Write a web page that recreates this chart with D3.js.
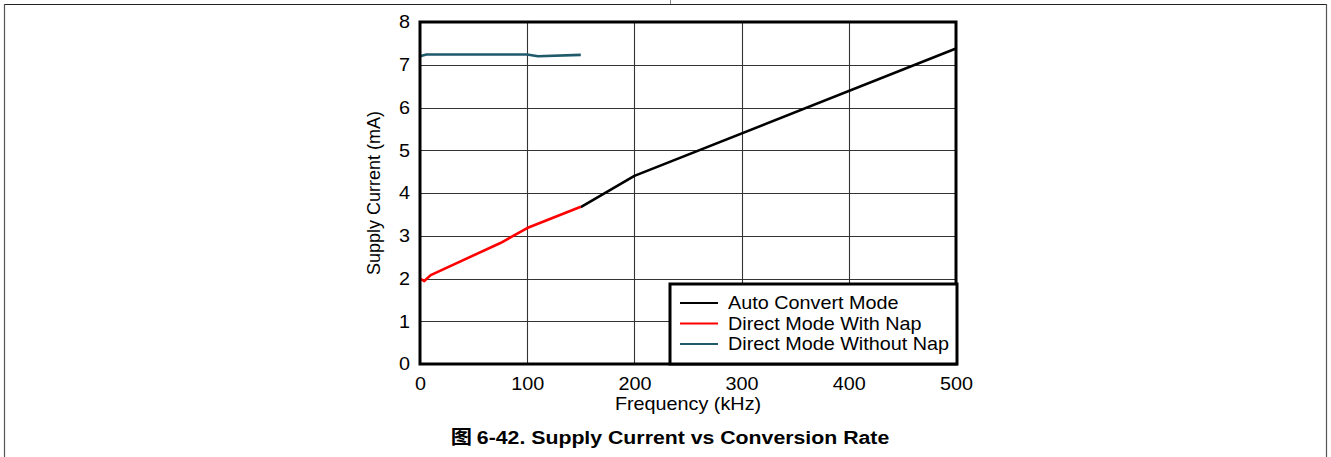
<!DOCTYPE html>
<html><head><meta charset="utf-8">
<script src="https://cdn.jsdelivr.net/npm/d3@7"></script>
<style>
html,body{margin:0;padding:0;background:#fff;}
svg{display:block;}
text{font-family:"Liberation Sans",Arial,sans-serif;fill:#000;}
</style></head>
<body>
<svg id="chart" width="1331" height="457"></svg>
<script>
const xTicks = [0, 100, 200, 300, 400, 500];
const yTicks = [0, 1, 2, 3, 4, 5, 6, 7, 8];
const seriesNames = ["Auto Convert Mode", "Direct Mode With Nap", "Direct Mode Without Nap"];
const seriesColors = ["#000000", "#ff0000", "#1f5a6b"];
const autoX = [150, 200, 500];
const autoY = [3.67, 4.40, 7.38];
const napX = [0, 4, 10, 75, 100, 150];
const napY = [2.0, 1.94, 2.08, 2.83, 3.18, 3.68];
const noNapX = [0, 6, 100, 110, 150];
const noNapY = [7.2, 7.24, 7.24, 7.2, 7.23];
const xLabel = "Frequency (kHz)";
const yLabel = "Supply Current (mA)";
const caption = "6-42. Supply Current vs Conversion Rate";

const FS = 18, SX = 1.1;
const svg = d3.select("#chart");
const L = 420, R = 956, T = 22, B = 364;
const x = d3.scaleLinear().domain([0, 500]).range([L, R]);
const y = d3.scaleLinear().domain([0, 8]).range([B, T]);

// page frame
svg.append("line").attr("x1", 4.5).attr("x2", 1326.5).attr("y1", 4.5).attr("y2", 4.5).attr("stroke", "#222").attr("stroke-width", 1.2);
svg.append("line").attr("x1", 4.5).attr("x2", 4.5).attr("y1", 4).attr("y2", 457).attr("stroke", "#555").attr("stroke-width", 1.2);
svg.append("line").attr("x1", 1326.5).attr("x2", 1326.5).attr("y1", 4).attr("y2", 457).attr("stroke", "#555").attr("stroke-width", 1.2);
svg.append("line").attr("x1", 670.5).attr("x2", 670.5).attr("y1", 0).attr("y2", 4).attr("stroke", "#888").attr("stroke-width", 1);

// grid
const g = svg.append("g");
g.selectAll(".vg").data(xTicks.slice(1, -1)).enter().append("line")
  .attr("x1", d => Math.round(x(d)) + 0.5).attr("x2", d => Math.round(x(d)) + 0.5)
  .attr("y1", T).attr("y2", B).attr("stroke", "#333").attr("stroke-width", 1.1);
g.selectAll(".hg").data(yTicks.slice(1, -1)).enter().append("line")
  .attr("x1", L).attr("x2", R)
  .attr("y1", d => Math.round(y(d)) + 0.5).attr("y2", d => Math.round(y(d)) + 0.5)
  .attr("stroke", "#333").attr("stroke-width", 1.1);

// axes tick labels
const xAxis = d3.axisBottom(x).tickValues(xTicks).tickSize(0).tickPadding(13);
const xg = svg.append("g").attr("transform", `translate(0,${B})`).call(xAxis);
xg.select(".domain").remove();
xg.selectAll("text").attr("font-size", FS).attr("font-family", "Liberation Sans, Arial, sans-serif")
  .attr("fill", "#000").attr("transform", `scale(${SX},1)`);
const yAxis = d3.axisLeft(y).tickValues(yTicks).tickSize(0).tickPadding(9);
const yg = svg.append("g").attr("transform", `translate(${L},0)`).call(yAxis);
yg.select(".domain").remove();
yg.selectAll("text").attr("font-size", FS).attr("font-family", "Liberation Sans, Arial, sans-serif")
  .attr("fill", "#000").attr("transform", `scale(${SX},1)`);

// series
const line = d3.line().x(d => x(d[0])).y(d => y(d[1]));
const data = [
  d3.zip(autoX, autoY),
  d3.zip(napX, napY),
  d3.zip(noNapX, noNapY)
];
[2, 0, 1].forEach(i => {
  svg.append("path").datum(data[i]).attr("d", line)
    .attr("fill", "none").attr("stroke", seriesColors[i]).attr("stroke-width", 2.6)
    .attr("stroke-linejoin", "round");
});

// plot frame
svg.append("rect").attr("x", L).attr("y", T).attr("width", R - L).attr("height", B - T)
  .attr("fill", "none").attr("stroke", "#000").attr("stroke-width", 3);

// legend
const lg = svg.append("g");
lg.append("rect").attr("x", 670).attr("y", 284).attr("width", 287).attr("height", 80)
  .attr("fill", "#fff").attr("stroke", "#000").attr("stroke-width", 3);
seriesNames.forEach((n, i) => {
  const yy = 303 + i * 20.5;
  lg.append("line").attr("x1", 680).attr("x2", 718).attr("y1", yy).attr("y2", yy)
    .attr("stroke", seriesColors[i]).attr("stroke-width", 2.2);
  lg.append("text").attr("transform", `translate(728,${yy}) scale(${SX},1)`).attr("dy", "0.35em")
    .attr("font-size", FS).text(n);
});

// axis titles
svg.append("text").attr("transform", `translate(${(L + R) / 2},410) scale(${SX},1)`).attr("text-anchor", "middle")
  .attr("font-size", FS).text(xLabel);
svg.append("text").attr("transform", `translate(380,${(T + B) / 2}) rotate(-90)`)
  .attr("text-anchor", "middle").attr("font-size", FS).text(yLabel);

// caption
const cap = svg.append("text").attr("transform", `translate(670,444) scale(1.12,1)`).attr("text-anchor", "middle")
  .attr("font-size", 19).attr("font-weight", "bold");
cap.append("tspan").attr("font-family", "Noto Sans CJK SC").text("图 ");
cap.append("tspan").text(caption);
</script>
</body></html>
